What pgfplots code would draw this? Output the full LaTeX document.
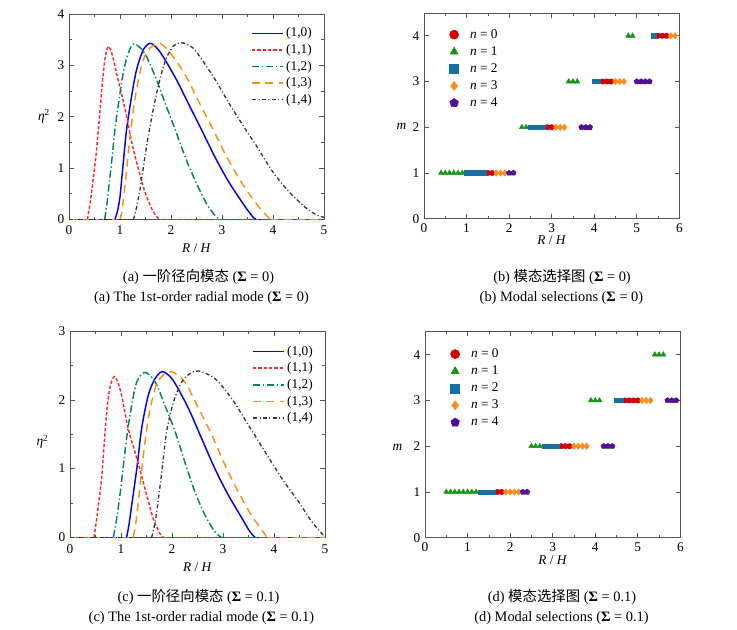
\documentclass[border=0pt]{standalone}
\usepackage{pgfplots}
\pgfplotsset{compat=1.18}
\usepackage{fontspec}
\setmainfont{Liberation Serif}
\newfontfamily\cjk{Noto Sans CJK SC}

\definecolor{cblue}{RGB}{0,0,255}
\definecolor{cred}{RGB}{255,40,40}
\definecolor{cgreen}{RGB}{0,133,95}
\definecolor{corange}{RGB}{255,140,20}
\definecolor{cgray}{RGB}{55,55,55}
\definecolor{mred}{RGB}{210,0,0}
\definecolor{mgreen}{RGB}{20,150,20}
\definecolor{mblue}{RGB}{25,110,165}
\definecolor{morange}{RGB}{255,140,25}
\definecolor{mpurple}{RGB}{80,15,150}
\definecolor{frame}{RGB}{85,85,85}

\tikzset{
  s10/.style={draw=cblue, line width=1.1pt, solid},
  s11/.style={draw=cred, line width=1.1pt, dash pattern=on 2.5pt off 1.5pt},
  s12/.style={draw=cgreen, line width=1.1pt, dash pattern=on 5.5pt off 2pt on 1pt off 2pt},
  s13/.style={draw=corange, line width=1.1pt, dash pattern=on 6pt off 4pt},
  s14/.style={draw=cgray, line width=1.0pt, dash pattern=on 3pt off 1.8pt on 0.8pt off 1.8pt},
}

\pgfplotsset{
  base/.style={scale only axis,
    axis line style={draw=frame, line width=0.6pt},
    every tick/.style={draw=frame, line width=0.5pt},
    tick align=inside, xtick pos=both, ytick pos=both,
    major tick length=3.5pt, minor tick length=2pt,
    ticklabel style={font=\fontsize{10}{12}\selectfont},
    /pgf/number format/assume math mode=true,
    label style={font=\fontsize{10}{12}\selectfont}},
  lineax/.style={base, width=191.25pt, xmin=0, xmax=5, xtick={0,1,...,5}, ymin=0,
    minor y tick num=1, minor x tick num=1,
    xlabel={\textit{R} / \textit{H}}, ylabel={\textit{η}\textsuperscript{2}},
    legend cell align=left,
    legend style={draw=none, fill=none, font=\fontsize{10}{12}\selectfont,
      at={(1,1)}, anchor=north east}},
  li10/.style={legend image code/.code={\draw[s10] (0pt,0pt) -- (23pt,0pt);}},
  li11/.style={legend image code/.code={\draw[s11] (0pt,0pt) -- (23pt,0pt);}},
  li12/.style={legend image code/.code={\draw[s12] (0pt,0pt) -- (23pt,0pt);}},
  li13/.style={legend image code/.code={\draw[s13] (0pt,0pt) -- (23pt,0pt);}},
  li14/.style={legend image code/.code={\draw[s14] (0pt,0pt) -- (23pt,0pt);}},
  scax/.style={base, width=191.5pt, xmin=0, xmax=6, ymin=0, ymax=4.5,
    xtick={0,1,...,6}, ytick={0,1,...,4}, minor x tick num=1,
    xlabel={\textit{R} / \textit{H}}, ylabel={\textit{m}},
    legend cell align=left,
    legend style={draw=none, fill=none, font=\fontsize{10}{12}\selectfont,
      at={(0,1)}, anchor=north west, column sep=6.5pt, row sep=0.7pt},
    legend image post style={mark size=3.4pt}},
  n0/.style={only marks, mark=*, mark size=2.0pt, color=mred},
  n1/.style={only marks, mark=triangle*, mark size=2.2pt, color=mgreen},
  n2/.style={only marks, mark=square*, mark size=1.65pt, color=mblue},
  n3/.style={only marks, mark=diamond*, mark size=2.4pt, color=morange},
  n4/.style={only marks, mark=pentagon*, mark size=2.1pt, color=mpurple},
}

\begin{document}
\begin{tikzpicture}
\useasboundingbox (0,0) rectangle (552.75pt,-471.75pt);

% ---------------- (a) ----------------
\begin{axis}[lineax, at={(51.75pt,-164.5pt)}, anchor=south west, height=154pt,
  ymax=4, ytick={0,1,...,4},
  xticklabel style={yshift=-1.5pt},
  xlabel style={at={(axis description cs:0.5,0)}, anchor=center, yshift=-21.3pt},
  every axis y label/.style={at={(axis description cs:0,0.5)}, anchor=center, xshift=-18.75pt},
  legend style={xshift=-4pt, yshift=-6pt}]
\addplot[s10, li10, smooth, tension=0.5] coordinates {(0.90,0) (0.95,0.16) (1.0,0.44) (1.063,1.09) (1.128,1.74) (1.226,2.39) (1.324,2.91) (1.455,3.30) (1.585,3.43) (1.7,3.36) (1.846,3.17) (2.107,2.72) (2.368,2.20) (2.63,1.68) (2.89,1.16) (3.15,0.70) (3.41,0.31) (3.54,0.13) (3.62,0.03) (3.67,0)};
\addlegendentry{(1,0)}
\addplot[s11, li11, smooth, tension=0.5] coordinates {(0.36,0) (0.42,0.35) (0.476,0.8) (0.53,1.25) (0.574,1.74) (0.62,2.25) (0.66,2.72) (0.71,3.15) (0.77,3.37) (0.85,3.2) (0.93,2.85) (1.03,2.45) (1.13,2.0) (1.23,1.5) (1.36,0.98) (1.49,0.53) (1.62,0.21) (1.72,0.05) (1.78,0)};
\addlegendentry{(1,1)}
\addplot[s12, li12, smooth, tension=0.5] coordinates {(0.70,0) (0.75,0.35) (0.80,0.8) (0.85,1.25) (0.90,1.74) (0.97,2.25) (1.04,2.72) (1.12,3.1) (1.20,3.33) (1.27,3.42) (1.39,3.35) (1.52,3.17) (1.716,2.72) (1.91,2.20) (2.107,1.68) (2.30,1.16) (2.50,0.70) (2.695,0.31) (2.86,0.08) (2.96,0)};
\addlegendentry{(1,2)}
\addplot[s13, li13, smooth, tension=0.5] coordinates {(1.0,0) (1.03,0.12) (1.08,0.5) (1.13,0.96) (1.19,1.55) (1.29,2.33) (1.42,2.98) (1.55,3.30) (1.75,3.43) (1.88,3.36) (2.04,3.17) (2.30,2.78) (2.56,2.26) (2.83,1.74) (3.09,1.22) (3.35,0.77) (3.54,0.485) (3.67,0.31) (3.82,0.13) (3.95,0)};
\addlegendentry{(1,3)}
\addplot[s14, li14, smooth, tension=0.5] coordinates {(1.26,0) (1.30,0.12) (1.39,0.57) (1.52,1.42) (1.65,2.13) (1.78,2.72) (1.91,3.14) (2.05,3.38) (2.205,3.44) (2.37,3.38) (2.50,3.26) (2.83,2.78) (3.15,2.24) (3.51,1.68) (3.67,1.44) (4.0,0.92) (4.32,0.53) (4.65,0.22) (4.85,0.09) (5.0,0.04)};
\addlegendentry{(1,4)}
\addplot[s10, forget plot] coordinates {(0,0) (0.9,0)};
\addplot[s10, forget plot] coordinates {(3.67,0) (5,0)};
\addplot[s11, forget plot] coordinates {(0,0) (0.36,0)};
\addplot[s11, forget plot] coordinates {(1.78,0) (5,0)};
\addplot[s12, forget plot] coordinates {(0,0) (0.70,0)};
\addplot[s12, forget plot] coordinates {(2.96,0) (5,0)};
\addplot[s13, forget plot] coordinates {(0,0) (1.0,0)};
\addplot[s13, forget plot] coordinates {(3.95,0) (5,0)};
\addplot[s14, forget plot] coordinates {(0,0) (1.26,0)};
\end{axis}

% ---------------- (b) ----------------
\begin{axis}[scax, at={(318pt,-164pt)}, anchor=south west, height=154.3pt,
  xlabel style={at={(axis description cs:0.5,0)}, anchor=center, yshift=-16.3pt},
  every axis y label/.style={at={(axis description cs:0,0.447)}, anchor=center, xshift=-17pt},
  legend style={xshift=16pt, yshift=-8pt}]
\addplot[n0] coordinates {(1.5,1)(1.6,1)(2.9,2)(3.0,2)(4.2,3)(4.3,3)(4.4,3)(5.5,4)(5.6,4)(5.7,4)};
\addlegendentry{\textit{n} = 0}
\addplot[n1] coordinates {(0.4,1)(0.5,1)(0.6,1)(0.7,1)(0.8,1)(0.9,1)(2.3,2)(2.4,2)(3.4,3)(3.5,3)(3.6,3)(4.8,4)(4.9,4)};
\addlegendentry{\textit{n} = 1}
\addplot[n2] coordinates {(1.0,1)(1.1,1)(1.2,1)(1.3,1)(1.4,1)(2.5,2)(2.6,2)(2.7,2)(2.8,2)(4.0,3)(4.1,3)(5.4,4)};
\addlegendentry{\textit{n} = 2}
\addplot[n3] coordinates {(1.7,1)(1.8,1)(1.9,1)(3.1,2)(3.2,2)(3.3,2)(4.5,3)(4.6,3)(4.7,3)(5.8,4)(5.9,4)};
\addlegendentry{\textit{n} = 3}
\addplot[n4] coordinates {(2.0,1)(2.1,1)(3.7,2)(3.8,2)(3.9,2)(5.0,3)(5.1,3)(5.2,3)(5.3,3)};
\addlegendentry{\textit{n} = 4}
\end{axis}

% ---------------- (c) ----------------
\begin{axis}[lineax, at={(52.5pt,-403pt)}, anchor=south west, height=154.7pt,
  ymax=3, ytick={0,1,...,3},
  xticklabel style={yshift=-2pt},
  xlabel style={at={(axis description cs:0.5,0)}, anchor=center, yshift=-22pt},
  every axis y label/.style={at={(axis description cs:0,0.463)}, anchor=center, xshift=-20.6pt},
  legend style={xshift=-4pt, yshift=-7pt}]
\addplot[s10, li10, smooth, tension=0.5] coordinates {(1.11,0) (1.16,0.2) (1.21,0.47) (1.31,1.0) (1.405,1.585) (1.536,2.07) (1.67,2.31) (1.80,2.41) (1.93,2.36) (2.06,2.24) (2.32,1.88) (2.58,1.44) (2.84,1.0) (3.10,0.62) (3.37,0.28) (3.53,0.08) (3.63,0)};
\addlegendentry{(1,0)}
\addplot[s11, li11, smooth, tension=0.5] coordinates {(0.47,0) (0.52,0.25) (0.57,0.55) (0.62,0.86) (0.72,1.83) (0.79,2.2) (0.87,2.34) (0.94,2.25) (1.01,2.07) (1.14,1.585) (1.31,1.15) (1.47,0.71) (1.63,0.28) (1.76,0.06) (1.83,0)};
\addlegendentry{(1,1)}
\addplot[s12, li12, smooth, tension=0.5] coordinates {(0.85,0) (0.91,0.25) (0.98,0.62) (1.11,1.44) (1.21,1.92) (1.31,2.26) (1.47,2.40) (1.67,2.26) (1.86,1.92) (2.06,1.54) (2.25,1.10) (2.45,0.66) (2.65,0.32) (2.84,0.08) (2.97,0)};
\addlegendentry{(1,2)}
\addplot[s13, li13, smooth, tension=0.5] coordinates {(1.24,0) (1.29,0.2) (1.34,0.52) (1.44,1.20) (1.536,1.73) (1.67,2.17) (1.80,2.34) (1.99,2.41) (2.25,2.26) (2.52,1.88) (2.78,1.49) (3.04,1.05) (3.30,0.66) (3.56,0.32) (3.76,0.11) (3.86,0)};
\addlegendentry{(1,3)}
\addplot[s14, li14, smooth, tension=0.5] coordinates {(1.60,0) (1.65,0.15) (1.70,0.37) (1.80,0.95) (1.895,1.54) (2.03,1.97) (2.19,2.26) (2.35,2.38) (2.52,2.42) (2.84,2.31) (3.17,2.02) (3.50,1.63) (3.82,1.25) (4.15,0.86) (4.48,0.52) (4.74,0.23) (4.97,0.03) (5.0,0.01)};
\addlegendentry{(1,4)}
\addplot[s10, forget plot] coordinates {(0,0) (1.11,0)};
\addplot[s10, forget plot] coordinates {(3.63,0) (5,0)};
\addplot[s11, forget plot] coordinates {(0,0) (0.47,0)};
\addplot[s11, forget plot] coordinates {(1.83,0) (5,0)};
\addplot[s12, forget plot] coordinates {(0,0) (0.85,0)};
\addplot[s12, forget plot] coordinates {(2.97,0) (5,0)};
\addplot[s13, forget plot] coordinates {(0,0) (1.24,0)};
\addplot[s13, forget plot] coordinates {(3.86,0) (5,0)};
\addplot[s14, forget plot] coordinates {(0,0) (1.60,0)};
\end{axis}

% ---------------- (d) ----------------
\begin{axis}[scax, at={(318.75pt,-403.3pt)}, anchor=south west, height=154.5pt,
  xticklabel style={yshift=-0.5pt},
  xlabel style={at={(axis description cs:0.5,0)}, anchor=center, yshift=-17pt},
  every axis y label/.style={at={(axis description cs:0,0.439)}, anchor=center, xshift=-20.6pt},
  legend style={xshift=16pt, yshift=-8.5pt}]
\addplot[n0] coordinates {(1.7,1)(1.8,1)(3.2,2)(3.3,2)(3.4,2)(4.7,3)(4.8,3)(4.9,3)(5.0,3)};
\addlegendentry{\textit{n} = 0}
\addplot[n1] coordinates {(0.5,1)(0.6,1)(0.7,1)(0.8,1)(0.9,1)(1.0,1)(1.1,1)(1.2,1)(2.5,2)(2.6,2)(2.7,2)(3.9,3)(4.0,3)(4.1,3)(5.4,4)(5.5,4)(5.6,4)};
\addlegendentry{\textit{n} = 1}
\addplot[n2] coordinates {(1.3,1)(1.4,1)(1.5,1)(1.6,1)(2.8,2)(2.9,2)(3.0,2)(3.1,2)(4.5,3)(4.6,3)};
\addlegendentry{\textit{n} = 2}
\addplot[n3] coordinates {(1.9,1)(2.0,1)(2.1,1)(2.2,1)(3.5,2)(3.6,2)(3.7,2)(3.8,2)(5.1,3)(5.2,3)(5.3,3)};
\addlegendentry{\textit{n} = 3}
\addplot[n4] coordinates {(2.3,1)(2.4,1)(4.2,2)(4.3,2)(4.4,2)(5.7,3)(5.8,3)(5.9,3)};
\addlegendentry{\textit{n} = 4}
\end{axis}

% ---------------- captions ----------------
\begin{scope}[every node/.style={font=\fontsize{10.8}{13}\selectfont, inner sep=0pt}]
\node at (148.9pt,-207.5pt) {(a) {\cjk 一阶径向模态} (\textbf{Σ} = 0)};
\node at (151.1pt,-223.7pt) {(a) The 1st-order radial mode (\textbf{Σ} = 0)};
\node at (421.5pt,-207.5pt) {(b) {\cjk 模态选择图} (\textbf{Σ} = 0)};
\node at (421.1pt,-223.7pt) {(b) Modal selections (\textbf{Σ} = 0)};
\node at (148.9pt,-447.5pt) {(c) {\cjk 一阶径向模态} (\textbf{Σ} = 0.1)};
\node at (151.1pt,-463.7pt) {(c) The 1st-order radial mode (\textbf{Σ} = 0.1)};
\node at (421.5pt,-447.5pt) {(d) {\cjk 模态选择图} (\textbf{Σ} = 0.1)};
\node at (421.1pt,-463.7pt) {(d) Modal selections (\textbf{Σ} = 0.1)};
\end{scope}
\end{tikzpicture}
\end{document}
